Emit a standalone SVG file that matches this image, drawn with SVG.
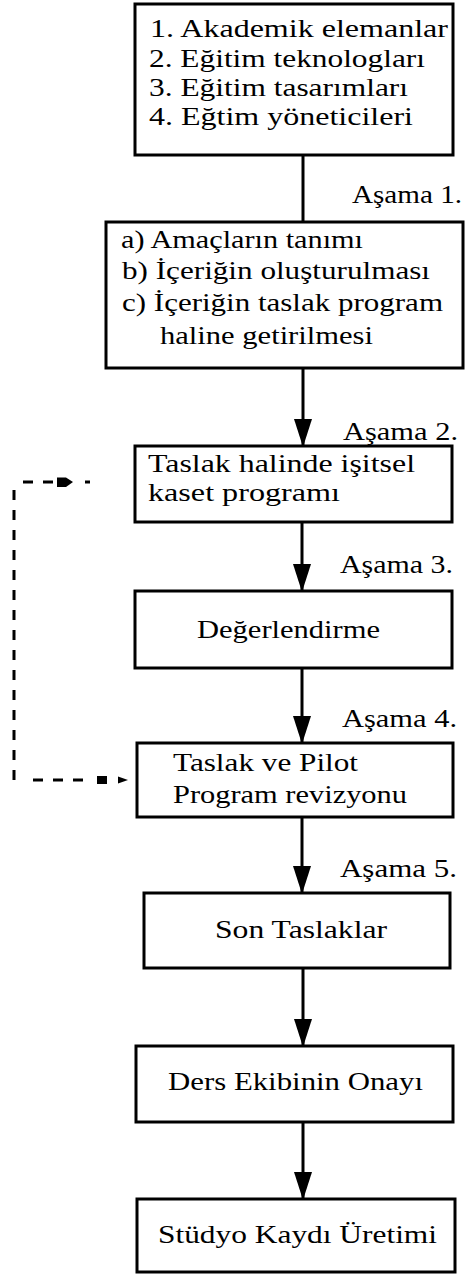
<svg xmlns="http://www.w3.org/2000/svg" width="465" height="1274" viewBox="0 0 465 1274">
<style>
.box{fill:#fff;stroke:#000;stroke-width:3}
.t{font-family:"Liberation Serif","Times New Roman",serif;font-size:26px;fill:#000}
.ln{stroke:#000;stroke-width:3;fill:none}
.dash{stroke:#000;stroke-width:3;fill:none;stroke-dasharray:10 10}
</style>
<defs>
<marker id="ah" markerUnits="userSpaceOnUse" viewBox="0 0 28 18" markerWidth="28" markerHeight="18" refX="28" refY="9" orient="auto">
<path d="M0,0 L28,9 L0,18 z" fill="#000"/>
</marker>
</defs>
<rect width="465" height="1274" fill="#fff"/>
<g id="connectors">
<line class="ln" x1="303" y1="155" x2="303" y2="222"/>
<line class="ln" x1="303" y1="368" x2="303" y2="447" marker-end="url(#ah)"/>
<line class="ln" x1="302" y1="522" x2="302" y2="592" marker-end="url(#ah)"/>
<line class="ln" x1="302" y1="668" x2="302" y2="744" marker-end="url(#ah)"/>
<line class="ln" x1="302" y1="817" x2="302" y2="894" marker-end="url(#ah)"/>
<line class="ln" x1="303" y1="968" x2="303" y2="1047" marker-end="url(#ah)"/>
<line class="ln" x1="303" y1="1122" x2="303" y2="1200" marker-end="url(#ah)"/>
<g id="feedback">
<path class="dash" d="M14,490 V780"/>
<path class="dash" d="M23,482 H55"/>
<path d="M57,477.5 L66,477.5 L73,482 L66,487 L57,487 z" fill="#000"/>
<line class="ln" x1="85" y1="482" x2="90" y2="482"/>
<path class="dash" d="M33,780 H90"/>
<rect x="97" y="776" width="10" height="8" fill="#000"/>
<path d="M118,776.5 L128,780 L118,783.5 z" fill="#000"/>
</g>
</g>
<g id="n1">
<rect class="box" x="135" y="4" width="318" height="151"/>
<text class="t" x="150" y="37" textLength="298" lengthAdjust="spacingAndGlyphs">1. Akademik elemanlar</text>
<text class="t" x="149" y="67" textLength="276" lengthAdjust="spacingAndGlyphs">2. Eğitim teknologları</text>
<text class="t" x="149" y="96" textLength="259" lengthAdjust="spacingAndGlyphs">3. Eğitim tasarımları</text>
<text class="t" x="149" y="125" textLength="264" lengthAdjust="spacingAndGlyphs">4. Eğtim yöneticileri</text>
</g>
<g id="lbl1"><text class="t" x="352" y="203" textLength="110" lengthAdjust="spacingAndGlyphs">Aşama 1.</text></g>
<g id="n2">
<rect class="box" x="106" y="222" width="357" height="146"/>
<text class="t" x="121" y="248" textLength="242" lengthAdjust="spacingAndGlyphs">a) Amaçların tanımı</text>
<text class="t" x="122" y="279" textLength="308" lengthAdjust="spacingAndGlyphs">b) İçeriğin oluşturulması</text>
<text class="t" x="122" y="311" textLength="321" lengthAdjust="spacingAndGlyphs">c) İçeriğin taslak program</text>
<text class="t" x="160" y="344" textLength="213" lengthAdjust="spacingAndGlyphs">haline getirilmesi</text>
</g>
<g id="lbl2"><text class="t" x="343" y="440" textLength="115" lengthAdjust="spacingAndGlyphs">Aşama 2.</text></g>
<g id="n3">
<rect class="box" x="135" y="446" width="317" height="76"/>
<text class="t" x="148" y="472" textLength="267" lengthAdjust="spacingAndGlyphs">Taslak halinde işitsel</text>
<text class="t" x="148" y="501" textLength="192" lengthAdjust="spacingAndGlyphs">kaset programı</text>
</g>
<g id="lbl3"><text class="t" x="340" y="573" textLength="113" lengthAdjust="spacingAndGlyphs">Aşama 3.</text></g>
<g id="n4">
<rect class="box" x="135" y="591" width="317" height="77"/>
<text class="t" x="197" y="638" textLength="183" lengthAdjust="spacingAndGlyphs">Değerlendirme</text>
</g>
<g id="lbl4"><text class="t" x="342" y="727" textLength="115" lengthAdjust="spacingAndGlyphs">Aşama 4.</text></g>
<g id="n5">
<rect class="box" x="137" y="743" width="316" height="74"/>
<text class="t" x="173" y="771" textLength="185" lengthAdjust="spacingAndGlyphs">Taslak ve Pilot</text>
<text class="t" x="173" y="803" textLength="234" lengthAdjust="spacingAndGlyphs">Program revizyonu</text>
</g>
<g id="lbl5"><text class="t" x="340" y="877" textLength="117" lengthAdjust="spacingAndGlyphs">Aşama 5.</text></g>
<g id="n6">
<rect class="box" x="144" y="893" width="306" height="75"/>
<text class="t" x="215" y="938" textLength="172" lengthAdjust="spacingAndGlyphs">Son Taslaklar</text>
</g>
<g id="n7">
<rect class="box" x="136" y="1046" width="317" height="76"/>
<text class="t" x="168" y="1090" textLength="255" lengthAdjust="spacingAndGlyphs">Ders Ekibinin Onayı</text>
</g>
<g id="n8">
<rect class="box" x="137" y="1199" width="318" height="73"/>
<text class="t" x="158" y="1243" textLength="279" lengthAdjust="spacingAndGlyphs">Stüdyo Kaydı Üretimi</text>
</g>
</svg>
